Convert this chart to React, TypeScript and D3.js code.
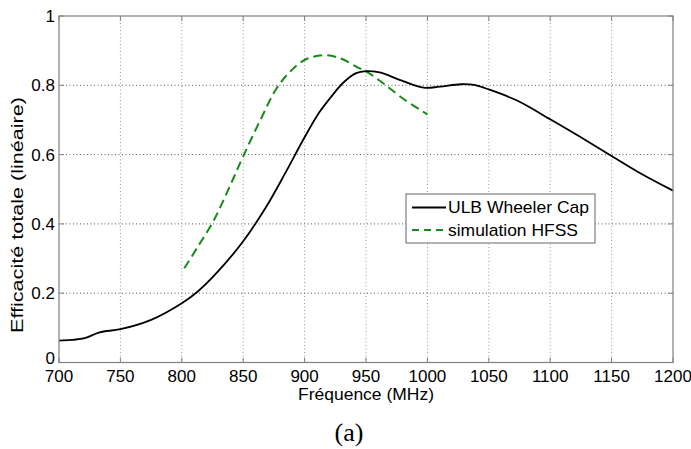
import React from "react";
import * as d3 from "d3";

const xTicks = [700, 750, 800, 850, 900, 950, 1000, 1050, 1100, 1150, 1200];
const yTicks = [0, 0.2, 0.4, 0.6, 0.8, 1];
const yTickLabels = ["0", "0.2", "0.4", "0.6", "0.8", "1"];

const measFreq = [700, 710, 721, 733, 750, 775, 800, 813, 828, 850, 868, 884, 900, 912, 921, 931, 942, 950, 961, 978, 997, 1010, 1027, 1038, 1050, 1073, 1100, 1124, 1150, 1173, 1200];
const measEff = [0.063, 0.065, 0.07, 0.087, 0.096, 0.123, 0.171, 0.205, 0.257, 0.35, 0.445, 0.545, 0.65, 0.722, 0.764, 0.806, 0.835, 0.841, 0.837, 0.815, 0.793, 0.796, 0.803, 0.801, 0.788, 0.756, 0.702, 0.652, 0.596, 0.547, 0.496];

const simFreq = [802, 813, 826, 838, 850, 864, 877, 888, 900, 915, 929, 942, 951, 964, 980, 1000];
const simEff = [0.272, 0.334, 0.41, 0.50, 0.595, 0.70, 0.79, 0.839, 0.873, 0.887, 0.878, 0.854, 0.838, 0.806, 0.762, 0.716];

const seriesNames = ["ULB Wheeler Cap", "simulation HFSS"];

const W = 691, H = 449;
const L = 59, R = 673, T = 16, B = 362.5;
const font = "'Liberation Sans', Arial, sans-serif";

export default function App() {
  const x = d3.scaleLinear().domain([700, 1200]).range([L, R]);
  const y = d3.scaleLinear().domain([0, 1]).range([B, T]);
  const line = d3
    .line<[number, number]>()
    .x((d) => x(d[0]))
    .y((d) => y(d[1]))
    .curve(d3.curveCatmullRom.alpha(0.5));
  const meas = line(measFreq.map((f, i) => [f, measEff[i]]) as [number, number][]) || "";
  const sim = line(simFreq.map((f, i) => [f, simEff[i]]) as [number, number][]) || "";
  const green = "#178a17";

  return (
    <svg width={W} height={H} style={{ position: "absolute", left: 0, top: 0, background: "#fff" }}>
      <rect x={0} y={0} width={W} height={H} fill="#fff" />
      {/* grid */}
      {xTicks.slice(1, -1).map((t) => (
        <line key={"gx" + t} x1={x(t)} x2={x(t)} y1={T} y2={B} stroke="#999" strokeWidth={1} strokeDasharray="1,2.5" />
      ))}
      {yTicks.slice(1, -1).map((t) => (
        <line key={"gy" + t} x1={L} x2={R} y1={y(t)} y2={y(t)} stroke="#555" strokeWidth={1} strokeDasharray="1,2.5" />
      ))}
      {/* ticks */}
      {xTicks.map((t) => (
        <g key={"tx" + t}>
          <line x1={x(t)} x2={x(t)} y1={B} y2={B - 5} stroke="#808080" />
          <line x1={x(t)} x2={x(t)} y1={T} y2={T + 5} stroke="#808080" />
          <text x={x(t)} y={B + 19.5} textAnchor="middle" fontFamily={font} fontSize={17} fill="#000">
            {t}
          </text>
        </g>
      ))}
      {yTicks.map((t, i) => (
        <g key={"ty" + t}>
          <line x1={L} x2={L + 5} y1={y(t)} y2={y(t)} stroke="#808080" />
          <line x1={R} x2={R - 5} y1={y(t)} y2={y(t)} stroke="#808080" />
          <text x={L - 4} y={y(t) - (t === 0 ? 4 : 0)} dy="0.35em" textAnchor="end" fontFamily={font} fontSize={17} fill="#000">
            {yTickLabels[i]}
          </text>
        </g>
      ))}
      {/* series */}
      <path d={sim} fill="none" stroke={green} strokeWidth={2} strokeDasharray="9,5" />
      <path d={meas} fill="none" stroke="#000" strokeWidth={1.8} />
      {/* box */}
      <rect x={L} y={T} width={R - L} height={B - T} fill="none" stroke="#808080" strokeWidth={1.2} />
      {/* legend */}
      <rect x={406} y={194} width={189} height={49} fill="#fff" stroke="#666" strokeWidth={1} />
      <line x1={412} x2={446} y1={207.5} y2={207.5} stroke="#000" strokeWidth={1.8} />
      <text x={448} y={207.5} dy="0.35em" fontFamily={font} fontSize={17} fill="#000" textLength={141} lengthAdjust="spacingAndGlyphs">
        {seriesNames[0]}
      </text>
      <line x1={412} x2={446} y1={230} y2={230} stroke={green} strokeWidth={2} strokeDasharray="7,5" />
      <text x={448} y={230} dy="0.35em" fontFamily={font} fontSize={17} fill="#000" textLength={130} lengthAdjust="spacingAndGlyphs">
        {seriesNames[1]}
      </text>
      {/* axis labels */}
      <text x={298} y={399.5} fontFamily={font} fontSize={17} fill="#000" textLength={136} lengthAdjust="spacingAndGlyphs">
        Fréquence (MHz)
      </text>
      <text
        transform={`translate(23,${333}) rotate(-90)`}
        fontFamily={font}
        fontSize={17}
        fill="#000"
        textLength={236}
        lengthAdjust="spacingAndGlyphs"
      >
        Efficacité totale (linéaire)
      </text>
      <text x={349} y={441} textAnchor="middle" fontFamily="'Liberation Serif', 'DejaVu Serif', serif" fontSize={26} fill="#000">
        (a)
      </text>
    </svg>
  );
}
